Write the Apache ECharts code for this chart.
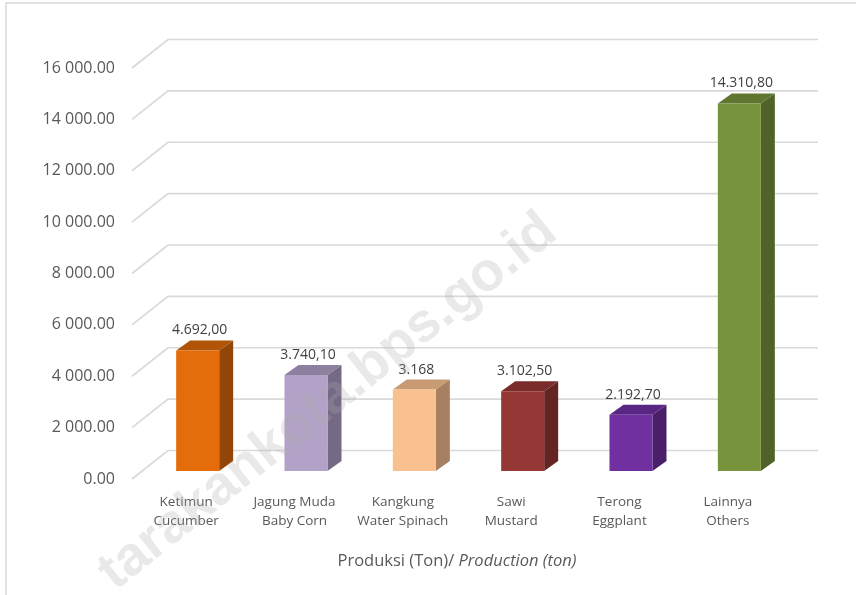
<!DOCTYPE html>
<html><head><meta charset="utf-8">
<script src="https://cdn.jsdelivr.net/npm/echarts@6/dist/echarts.min.js"></script>
<style>html,body{margin:0;padding:0;background:#fff}#c{width:856px;height:595px}</style>
</head><body><div id="c"></div>
<script>
const categories = ['Ketimun\nCucumber','Jagung Muda\nBaby Corn','Kangkung\nWater Spinach','Sawi\nMustard','Terong\nEggplant','Lainnya\nOthers'];
const values = [4692.00, 3740.10, 3168, 3102.50, 2192.70, 14310.80];
const valueLabels = ['4.692,00','3.740,10','3.168','3.102,50','2.192,70','14.310,80'];
const yTicks = [0,2000,4000,6000,8000,10000,12000,14000,16000];
const frontColors = ['#E46C0A','#B3A2C7','#FAC090','#953735','#7030A0','#77933C'];
const sideColors  = ['#934507','#756A85','#A68060','#632422','#4A1F6A','#4F6228'];
const topColors   = ['#B05508','#8D7F9E','#C99B74','#7A2C2A','#5A2683','#5F7630'];

const FONT = '"Open Sans", "Noto Sans", sans-serif';
const DX = 36, DY = -28.5;      // depth of the floor / walls
const chart = echarts.init(document.getElementById('c'));

function gridItem(params, api){
  const v = api.value(0);
  const cs = params.coordSys;
  const p = api.coord([0, v]);
  const y = p[1];
  const x0 = cs.x, x1 = cs.x + DX, x2 = cs.x + cs.width + DX;
  return {type:'polyline', shape:{points:[[x0,y],[x1,y+DY],[x2,y+DY]]},
    style:{stroke:'#D9D9D9', lineWidth:1.6, fill:null}, silent:true};
}

function barItem(params, api){
  const i = api.value(0), v = api.value(1);
  const top = api.coord([i, v]);
  const bot = api.coord([i, 0]);
  const ox = 11.5, oy = -8;      // front face offset from front plane
  const bx = 14, by = -10;       // bar depth
  const w = 43;
  const cx = top[0] + ox;
  const l = cx - w/2, r = cx + w/2;
  const yt = top[1] + oy, yb = bot[1] + oy;
  return {type:'group', children:[
    {type:'polygon', shape:{points:[[r,yb],[r+bx,yb+by],[r+bx,yt+by],[r,yt]]},
      style:{fill:sideColors[i]}},
    {type:'polygon', shape:{points:[[l,yt],[r,yt],[r+bx,yt+by],[l+bx,yt+by]]},
      style:{fill:topColors[i]}},
    {type:'rect', shape:{x:l, y:yt, width:w, height:yb-yt},
      style:{fill:frontColors[i]}},
    {type:'text', x:cx+2, y:yt+by-3,
      style:{text:valueLabels[i], fill:'#404040', font:'14px '+FONT,
        align:'center', verticalAlign:'bottom'}}
  ]};
}

chart.setOption({
  animation:false,
  backgroundColor:'#fff',
  grid:{left:132, right:74, top:68, bottom:116},
  xAxis:{type:'category', data:categories,
    axisLine:{show:false}, axisTick:{show:false},
    axisLabel:{interval:0, color:'#595959', fontSize:13.5, fontFamily:FONT, lineHeight:19, margin:14},
    name:'Produksi (Ton)/ {i|Production (ton)}', nameLocation:'middle', nameGap:74,
    nameTextStyle:{color:'#595959', fontSize:16.5, fontFamily:FONT,
      rich:{i:{fontStyle:'italic', color:'#595959', fontSize:16.5, fontFamily:FONT}}}},
  yAxis:{type:'value', min:0, max:16000, interval:2000,
    axisLine:{show:false}, axisTick:{show:false}, splitLine:{show:false},
    axisLabel:{color:'#595959', fontSize:16, fontFamily:FONT, margin:17,
      formatter:v=>{const s=Math.round(v).toString().replace(/\B(?=(\d{3})+(?!\d))/g,' ');return s+'.00';}}},
  series:[
    {type:'custom', renderItem:gridItem, data:yTicks.map(t=>[t]), silent:true, z:1},
    {type:'custom', renderItem:barItem, data:values.map((v,i)=>[i,v]), z:2}
  ],
  graphic:[
    {type:'rect', shape:{x:6, y:3, width:900, height:700}, style:{fill:null, stroke:'#D9D9D9', lineWidth:1.5}, z:-10, silent:true},
    {type:'text', x:328, y:402, rotation:38.6*Math.PI/180,
      style:{text:'tarakankota.bps.go.id', font:'bold 55px "Liberation Sans", Arial, sans-serif',
        fill:'rgba(170,170,170,0.26)', align:'center', verticalAlign:'middle'}, z:100, silent:true}
  ]
});
</script></body></html>
